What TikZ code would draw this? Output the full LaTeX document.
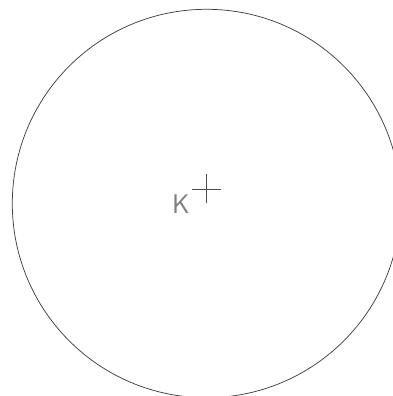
\documentclass[tikz,border=0pt]{standalone}
\usetikzlibrary{calc}
\begin{document}
\begin{tikzpicture}[x=1pt,y=1pt,
  outline/.style={draw=black!75, line width=0.75pt},
  cross/.style={draw=black!70, line width=0.9pt},
  lbl/.style={text=black!50, inner sep=0pt, font=\fontsize{27}{27}\selectfont\sffamily}]
\useasboundingbox (0,0) rectangle (393,396);
\clip (0,0) rectangle (393,396);
\coordinate (c) at (206.5,192.5);
\draw[outline] (c) circle[radius=194.2];
\coordinate (p) at (206,207);
\draw[cross] ($(p)+(-14.5,0)$) -- ($(p)+(14.5,0)$);
\draw[cross] ($(p)+(0,-14.5)$) -- ($(p)+(0,14.5)$);
\node[lbl, anchor=base west] (k) at (172,182.7) {K};
\end{tikzpicture}
\end{document}
